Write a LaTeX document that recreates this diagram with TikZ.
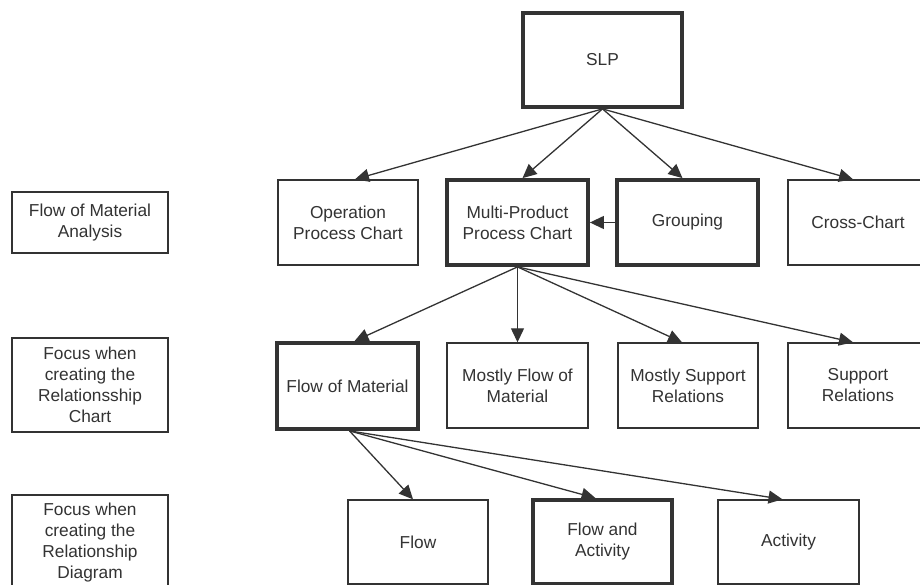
\documentclass[tikz,border=0pt]{standalone}
\usepackage{fontspec}
\setmainfont{Liberation Sans}
\usetikzlibrary{arrows.meta}
\definecolor{ink}{HTML}{333333}
\definecolor{edge}{HTML}{333333}
\begin{document}
\begin{tikzpicture}[x=1pt,y=-1pt,
  box/.style={draw=edge,line width=1.4pt,fill=white,inner sep=0pt,
    align=center,text=ink,font=\fontsize{17.3}{21}\selectfont},
  strong/.style={box,line width=3.8pt},
  caption/.style={align=center,text=ink,inner sep=0pt,font=\fontsize{17.3}{21}\selectfont},
  link/.style={draw=edge,line width=1.3pt,-{Triangle[length=14pt,width=13pt]}}]
\useasboundingbox (0,0) rectangle (920,585);
\clip (0,0) rectangle (920,585);

% top of the hierarchy
\node[strong,minimum width=159pt,minimum height=94pt] (slp) at (602.5,60) {SLP};

% row labels on the left
\node[box,minimum width=156pt,minimum height=61pt] (lab1) at (90,222.5) {Flow of Material\\Analysis};
\node[box,minimum width=156pt,minimum height=94pt] (lab2) at (90,385) {Focus when\\creating the\\Relationsship\\Chart};
\node[box,minimum width=156pt,minimum height=100pt] (lab3) at (90,545) {};
\node[caption] (lab3t) at (90,543) {Focus when\\creating the\\Relationship\\Diagram};

% second row
\node[box,minimum width=140pt,minimum height=85pt] (opc) at (348,222.5) {Operation\\Process Chart};
\node[strong,minimum width=141pt,minimum height=85pt] (mpp) at (517.5,222.5) {Multi-Product\\Process Chart};
\node[strong,minimum width=141pt,minimum height=85pt] (grp) at (687.5,222.5) {Grouping};
\node[box,minimum width=140pt,minimum height=85pt] (cc) at (858,222.5) {Cross-Chart};

% third row
\node[strong,minimum width=141pt,minimum height=86pt] (fom) at (347.5,386) {Flow of Material};
\node[box,minimum width=141pt,minimum height=85pt] (mfm) at (517.5,385.5) {Mostly Flow of\\Material};
\node[box,minimum width=140pt,minimum height=85pt] (msr) at (688,385.5) {Mostly Support\\Relations};
\node[box,minimum width=140pt,minimum height=85pt] (sr) at (858,385.5) {Support\\Relations};

% fourth row
\node[box,minimum width=140pt,minimum height=84pt] (flow) at (418,542) {Flow};
\node[strong,minimum width=139pt,minimum height=84pt] (fa) at (602.5,542) {Flow and\\Activity};
\node[box,minimum width=141pt,minimum height=84pt] (act) at (788.5,542) {Activity};

% connectors
\draw[link] (slp.south) -- ([xshift=7pt]opc.north);
\draw[link] (slp.south) -- ([xshift=5pt]mpp.north);
\draw[link] (slp.south) -- ([xshift=-5pt]grp.north);
\draw[link] (slp.south) -- ([xshift=-5pt]cc.north);
\draw[link] (grp.west) -- (mpp.east);
\draw[link] (mpp.south) -- ([xshift=7pt]fom.north);
\draw[link] (mpp.south) -- (mfm.north);
\draw[link] (mpp.south) -- ([xshift=-6pt]msr.north);
\draw[link] (mpp.south) -- ([xshift=-5pt]sr.north);
\draw[link] ([xshift=2pt]fom.south) -- ([xshift=-5pt]flow.north);
\draw[link] ([xshift=2pt]fom.south) -- ([xshift=-7pt]fa.north);
\draw[link] ([xshift=2pt]fom.south) -- ([xshift=-6pt]act.north);
\end{tikzpicture}
\end{document}
